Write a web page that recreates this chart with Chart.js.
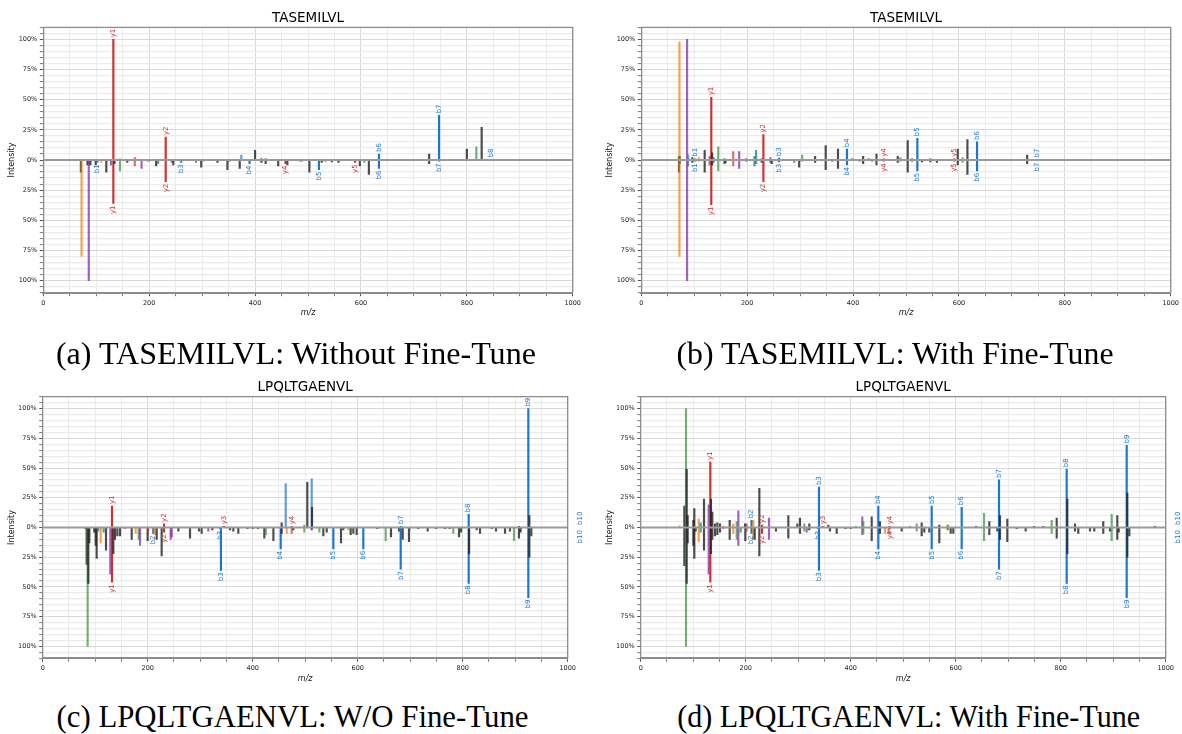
<!DOCTYPE html>
<html><head><meta charset="utf-8">
<script src="https://cdn.jsdelivr.net/npm/chart.js@4.4.1/dist/chart.umd.min.js"></script>
<style>
html,body{margin:0;padding:0;background:#fff;overflow:hidden;width:1182px;height:734px;position:relative;}
.panel{position:absolute;}
.cap{position:absolute;font-family:"Liberation Serif","Times New Roman",serif;font-size:31px;line-height:31px;white-space:nowrap;color:#000;transform-origin:center top;}
</style></head><body>
<div class="panel" style="left:0px;top:0px;width:584px;height:322px"><canvas id="ca"></canvas></div>
<div class="panel" style="left:598px;top:0px;width:584px;height:322px"><canvas id="cb"></canvas></div>
<div class="panel" style="left:0px;top:369px;width:584px;height:319px"><canvas id="cc"></canvas></div>
<div class="panel" style="left:598px;top:369px;width:584px;height:319px"><canvas id="cd"></canvas></div>
<div class="cap" id="capa"></div>
<div class="cap" id="capb"></div>
<div class="cap" id="capc"></div>
<div class="cap" id="capd"></div>
<script>
// ---------------- DATA ----------------
const TITLES = ['TASEMILVL', 'TASEMILVL', 'LPQLTGAENVL', 'LPQLTGAENVL'];
const CAPTIONS = ['(a) TASEMILVL: Without Fine-Tune', '(b) TASEMILVL: With Fine-Tune',
                  '(c) LPQLTGAENVL: W/O Fine-Tune', '(d) LPQLTGAENVL: With Fine-Tune'];
const X_LABEL = 'm/z';
const Y_LABEL = 'Intensity';
const X_MAJOR = 200, X_MINOR = 50, Y_MAJOR = 25, Y_MINOR = 5;

// peaks: [m/z, relative intensity %, ion type, annotation]
const A_TOP = [[132.3,100,'y','y1'],[145,1,'a',''],[173,2,'y',''],[231.2,19,'y','y2'],[374,4,'b',''],[400,8,'u',''],
 [411.7,1.5,'a',''],[420,1,'u',''],[634,5,'b','b6'],[652,0.5,'u',''],[728.8,5,'u',''],[747.5,37,'b','b7'],
 [800,9,'u',''],[818,11,'a',''],[828,27,'u',''],[846,0.5,'b','b8']];
const A_BOTTOM = [[71,10,'u',''],[72.2,80,'z',''],[83.4,4,'u',''],[85.9,100,'x',''],[89,4,'u',''],[99,4,'u',''],
 [102,2,'b','b1'],[109.7,2,'z',''],[119,10,'u',''],[128,4,'x',''],[132.3,36,'y','y1'],[134.5,3,'u',''],
 [144.8,9,'a',''],[158.6,2,'u',''],[172.9,5,'y',''],[185.6,7,'x',''],[198.6,1,'u',''],[213.1,5,'u',''],
 [216.9,3,'c',''],[231.2,18,'y','y2'],[242.6,2,'x',''],[245.6,4,'u',''],[260.5,2,'b','b3'],[288.3,2,'c',''],
 [298.3,6,'u',''],[302,1,'a',''],[329,2,'u',''],[347.8,8,'u',''],[352,1,'u',''],[371,7,'u',''],
 [389.6,3,'b','b4'],[412,2,'u',''],[420,3,'u',''],[443.7,5,'u',''],[457.5,3,'y','y4'],[461,4,'u',''],
 [485.6,1,'u',''],[489,1,'a',''],[502.6,10,'u',''],[520.7,8,'b','b5'],[526,2,'u',''],[532.6,1,'u',''],
 [545,1.5,'u',''],[557.6,2,'u',''],[589,2,'y','y5'],[597.8,5,'u',''],[606.6,2,'a',''],[615,12,'u',''],
 [634,7,'b','b6'],[711.8,0.5,'u',''],[728.8,3,'u',''],[747.5,1,'b','b7']];

const B_TOP = [[71.2,3,'u',''],[72.1,98,'z',''],[73,3,'a',''],[86.5,100,'x',''],[88.4,4,'b',''],[96.5,2,'u',''],
 [102,1,'b','b1'],[109,2,'z',''],[119.7,8,'u',''],[129.1,3,'x',''],[132.2,52,'y','y1'],[133.8,6,'u',''],
 [136.6,2,'c',''],[145.4,11,'a',''],[157.3,1,'u',''],[173.6,7,'y',''],[184.9,7,'x',''],[198,1,'u',''],
 [213.7,3,'c',''],[216.8,8,'c',''],[227.5,1,'u',''],[230.6,21,'y','y2'],[243.8,2,'x',''],[260.1,1.5,'b','b3'],
 [303.8,4,'a',''],[328.3,3,'u',''],[348.3,12,'u',''],[371.5,9,'u',''],[388.5,9,'b','b4'],[398.4,1,'u',''],
 [419,3,'u',''],[429.7,1,'u',''],[444.2,5,'u',''],[457.9,1,'y','y4'],[484.4,3,'u',''],[489.4,2,'a',''],
 [503.2,16,'u',''],[511.3,1,'u',''],[521.4,18,'b','b5'],[545.9,1,'u',''],[591,1,'y','y5'],[597.7,9,'u',''],
 [606.6,2,'a',''],[616,17,'u',''],[634.2,15,'b','b6'],[668,0.5,'u',''],[711.8,0.5,'u',''],[728.8,4,'u',''],
 [747.5,0.5,'b','b7']];
const B_BOTTOM = [[71.2,10,'u',''],[72.1,80,'z',''],[73,3,'a',''],[86.5,100,'x',''],[88.4,5,'b',''],[96.5,2,'u',''],
 [102,1,'b','b1'],[109,1,'z',''],[119.7,10,'u',''],[129.1,4,'x',''],[132.2,37,'y','y1'],[133.8,4,'u',''],
 [136.6,2,'c',''],[145.4,9,'a',''],[157.3,3,'u',''],[159.2,2,'u',''],[173.6,5,'y',''],[184.9,7,'x',''],
 [198,1,'u',''],[213.7,5,'c',''],[216.8,3,'c',''],[227.5,2,'u',''],[230.6,18,'y','y2'],[243.8,2,'x',''],
 [246.3,3,'u',''],[260.1,1.5,'b','b3'],[288.8,2,'c',''],[298.2,6,'u',''],[303.8,1,'a',''],[328.3,2,'u',''],
 [348.3,8,'u',''],[360.8,1,'u',''],[371.5,7,'u',''],[388.5,4,'b','b4'],[412.2,1,'u',''],[419,3,'u',''],
 [436,1,'u',''],[444.2,4,'u',''],[457.9,1,'y','y4'],[484.4,2,'u',''],[489.4,1,'a',''],[503.2,10,'u',''],
 [511.3,1,'u',''],[521.4,9,'b','b5'],[530.1,1.5,'u',''],[545.9,1.5,'u',''],[558.3,2,'u',''],[591,1,'y','y5'],
 [597.7,4,'u',''],[606.6,2,'a',''],[616,12,'u',''],[634.2,9,'b','b6'],[728.8,3,'u',''],[747.5,0.5,'b','b7']];

const C_TOP = [[132,18,'y','y1'],[231.1,3,'y','y2'],[345.3,1,'y','y3'],[455.2,4,'u',''],[462.9,37,'b',''],
 [474.3,1,'y','y4'],[498.3,2,'a',''],[504,38,'u',''],[512.4,41,'b',''],[513,17,'u',''],[681.9,1,'b','b7'],
 [811.4,11,'b','b8'],[907.2,1,'u',''],[925,100,'b','b9'],[926.9,10,'u',''],[1023,0.5,'b','b10']];
const C_BOTTOM = [[81.8,1,'u',''],[83.7,31,'u',''],[85.6,100,'a',''],[86.9,47,'u',''],[88.8,13,'u',''],
 [98.3,4,'u',''],[100.9,15,'u',''],[102.8,26,'u',''],[106,3,'c',''],[110.4,13,'z',''],[116.1,4,'c',''],
 [120.6,19,'u',''],[128.8,39,'x',''],[132,46,'y','y1'],[134.6,22,'u',''],[137.7,10,'u',''],[142.2,7,'u',''],
 [147.3,7,'u',''],[156.8,1,'y',''],[169.5,10,'u',''],[177.1,5,'z',''],[182.8,10,'a',''],[185.4,15,'x',''],
 [199.9,11,'u',''],[200.6,3,'y',''],[210.7,5,'b','b2'],[213.3,6,'z',''],[217.1,10,'u',''],[226.6,24,'u',''],
 [231.1,4,'y','y2'],[243.8,10,'x',''],[245.7,8,'x',''],[258.4,3,'u',''],[280.6,9,'u',''],[297.7,3,'u',''],
 [302.8,5,'u',''],[315.5,3,'x',''],[323.1,2,'u',''],[337.7,1,'b','b3'],[339.5,36,'b','b3'],[356.8,2,'u',''],
 [363.1,3,'u',''],[372.6,5,'u',''],[390,1,'u',''],[400,1,'u',''],[410,1,'u',''],[422.2,9,'u',''],
 [424.8,6,'a',''],[439.4,11,'u',''],[453.3,18,'b','b4'],[455.2,5,'u',''],[464.8,5,'z',''],[474.3,5,'y',''],
 [477.5,2,'u',''],[498.3,4,'a',''],[512.4,2,'u',''],[526.9,4,'a',''],[534.5,7,'u',''],[541,4,'u',''],
 [553.6,18,'b','b5'],[568.2,13,'u',''],[572.6,2,'u',''],[582.1,2,'z',''],[586.6,6,'u',''],[591.7,5,'u',''],
 [598,6,'u',''],[610.7,18,'b','b6'],[637.3,1,'u',''],[653.3,11,'a',''],[663.4,8,'u',''],[678.7,3,'u',''],
 [681.9,35,'b','b7'],[685.7,10,'u',''],[697.7,12,'u',''],[698.5,2,'c',''],[715.4,1,'u',''],[733.3,3,'u',''],
 [749.1,1,'u',''],[766.3,1,'u',''],[775.2,1,'u',''],[782.1,5,'a',''],[793,8,'u',''],[796.8,4,'u',''],
 [811.4,47,'b','b8'],[812.2,22,'u',''],[826.7,2,'u',''],[833,5,'u',''],[855.2,1,'u',''],[863.4,3,'u',''],
 [880.6,5,'u',''],[890,3,'u',''],[897.7,11,'a',''],[907.2,9,'u',''],[910.4,4,'u',''],[925,59,'b','b9'],
 [926.9,25,'u',''],[930.7,7,'u',''],[1023,0.5,'b','b10']];

const D_TOP = [[73.7,1.5,'z',''],[83.1,18,'u',''],[86.3,100,'a',''],[87.6,49,'u',''],[89.5,10,'u',''],
 [100.3,6,'u',''],[102.1,16,'u',''],[110.5,7,'z',''],[114.3,4,'c',''],[120.6,24,'u',''],[129.5,19,'x',''],
 [132.6,55,'y','y1'],[133.9,24,'u',''],[136.4,13,'u',''],[141.5,3,'u',''],[146,4,'u',''],[151,3,'u',''],
 [157.4,1,'y',''],[169.5,6,'u',''],[176.4,3,'z',''],[182.9,5,'a',''],[186,14,'x',''],[198.7,3,'u',''],
 [201.9,3,'y',''],[211.1,6,'b','b2'],[214.5,6,'z',''],[226,33,'u',''],[231.2,2,'y','y2'],[244.4,8,'x',''],
 [281.2,10,'u',''],[298.3,3,'u',''],[303.4,8,'u',''],[311.6,3,'a',''],[321.1,3,'u',''],[339.6,34,'b','b3'],
 [346.7,1,'y','y3'],[357.4,2,'u',''],[410,1,'c',''],[422.1,9,'x',''],[424,5,'a',''],[440,9,'u',''],
 [452.6,18,'b','b4'],[455.8,5,'u',''],[474.3,1,'y','y4'],[513,1,'b',''],[525.7,3,'a',''],[535.2,4,'u',''],
 [554.3,18,'b','b5'],[568.8,2,'u',''],[584,2,'z',''],[585.3,2,'a',''],[611.4,17,'b','b6'],[638.7,1,'u',''],
 [653.9,12,'a',''],[664,5,'u',''],[682.5,40,'b','b7'],[684.4,10,'u',''],[698.3,7,'u',''],[749.1,1,'u',''],
 [766.9,1,'u',''],[782.9,6,'a',''],[792.4,8,'u',''],[811.4,49,'b','b8'],[812.6,24,'u',''],[827.2,3,'u',''],
 [881.1,5,'u',''],[897.1,11,'a',''],[907.8,10,'u',''],[925.7,69,'b','b9'],[926.9,29,'u',''],[979.6,1,'u',''],
 [1023,0.5,'b','b10']];
const D_BOTTOM = [[83.1,32,'u',''],[86.3,100,'a',''],[87.6,47,'u',''],[89.5,13,'u',''],[100.3,15,'u',''],
 [102.1,26,'u',''],[104.7,3,'u',''],[110.5,12,'z',''],[114.3,4,'c',''],[120.6,19,'u',''],[129.5,39,'x',''],
 [132.6,46,'y','y1'],[133.9,22,'u',''],[136.4,10,'u',''],[141.5,7,'u',''],[146,6,'u',''],[151,4,'u',''],
 [157.4,1,'y',''],[169.5,10,'u',''],[176.4,5,'z',''],[182.9,10,'a',''],[186,15,'x',''],[190.5,4,'c',''],
 [199.3,11,'u',''],[201.9,3,'y',''],[211.1,5,'b','b2'],[214.5,10,'z',''],[217.1,10,'u',''],[226,24,'u',''],
 [231.2,5,'y','y2'],[244.4,10,'x',''],[257.7,3,'u',''],[281.2,9,'u',''],[303.4,5,'u',''],[311.6,3,'a',''],
 [316.2,4,'x',''],[321.1,2,'u',''],[338,1,'b','b3'],[339.6,36,'b','b3'],[360.6,3,'u',''],[373.3,5,'u',''],
 [390,1,'u',''],[400,1,'u',''],[422.1,6,'x',''],[424,5,'a',''],[440,11,'u',''],[452.6,18,'b','b4'],
 [455.8,5,'u',''],[465.3,5,'z',''],[472.4,5,'y',''],[474.3,1,'y','y4'],[497.1,3,'u',''],[525.7,3,'a',''],
 [535.2,7,'u',''],[540.2,4,'u',''],[549.7,4,'u',''],[554.3,18,'b','b5'],[568.8,13,'u',''],[584,2,'z',''],
 [585.3,2,'a',''],[590.5,5,'u',''],[595.4,5,'u',''],[611.4,18,'b','b6'],[653.9,11,'a',''],[664,6,'u',''],
 [679.2,3,'u',''],[682.5,35,'b','b7'],[684.4,10,'u',''],[698.3,12,'u',''],[716.2,1,'u',''],[733.3,3,'u',''],
 [782.9,5,'a',''],[792.4,9,'u',''],[811.4,47,'b','b8'],[812.6,22,'u',''],[827.2,3,'u',''],[833.5,5,'u',''],
 [855.8,3,'u',''],[864,3,'u',''],[881.1,5,'u',''],[893.9,3,'u',''],[897.1,11,'a',''],[907.8,10,'u',''],
 [910.5,4,'u',''],[925.7,59,'b','b9'],[926.9,25,'u',''],[930.7,7,'u',''],[1023,0.5,'b','b10']];

// ---------------- STYLE ----------------
const ION_COLORS = {a:'#388E3C', b:'#1976D2', c:'#00796B', x:'#7B1FA2', y:'#D32F2F', z:'#F57C00', u:'#212121'};
function rgba(hex, a){const n=parseInt(hex.slice(1),16);return `rgba(${n>>16&255},${n>>8&255},${n&255},${a})`;}
const FONT = 'DejaVu Sans';

const spectrumPlugin = {
  id:'spectrum',
  afterDatasetsDraw(chart){
    const ctx = chart.ctx, ca = chart.chartArea, ys = chart.scales.y;
    const y0 = ys.getPixelForValue(0);
    ctx.save();
    ctx.strokeStyle = '#9a9a9a'; ctx.lineWidth = 2;
    ctx.beginPath(); ctx.moveTo(ca.left, y0); ctx.lineTo(ca.right, y0); ctx.stroke();
    ctx.strokeStyle = '#8c8c8c'; ctx.lineWidth = 1.3;
    ctx.beginPath(); ctx.moveTo(ca.left, ca.top); ctx.lineTo(ca.right, ca.top); ctx.lineTo(ca.right, ca.bottom); ctx.stroke();
    const meta = chart.getDatasetMeta(0);
    const src = chart.data.datasets[0].peaks;
    ctx.font = `7px "${FONT}"`;
    ctx.textBaseline = 'middle';
    meta.data.forEach((el, i) => {
      const p = src[i];
      if (!p.label) return;
      ctx.save();
      ctx.fillStyle = ION_COLORS[p.ion];
      if (p.sign > 0) { ctx.translate(el.x, el.y - 2); ctx.rotate(-Math.PI/2); ctx.textAlign = 'left'; }
      else { ctx.translate(el.x, el.y + 2); ctx.rotate(-Math.PI/2); ctx.textAlign = 'right'; }
      ctx.fillText(p.label, 0, 0);
      ctx.restore();
    });
    ctx.restore();
  }
};

function buildPanel(canvasId, title, topPeaks, bottomPeaks, geo){
  const peaks = [];
  topPeaks.forEach(p => peaks.push({mz:p[0], v:p[1], ion:p[2], label:p[3], sign:1}));
  bottomPeaks.forEach(p => peaks.push({mz:p[0], v:-p[1], ion:p[2], label:p[3], sign:-1}));
  const data = peaks.map(p => ({x:p.mz, y:p.v}));
  const colors = peaks.map(p => rgba(ION_COLORS[p.ion], p.label ? 1 : (p.ion === 'u' ? 0.8 : 0.7)));
  return new Chart(document.getElementById(canvasId), {
    type:'bar',
    data:{datasets:[{data, peaks, backgroundColor:colors, borderWidth:0, barThickness:1.5, grouped:false}]},
    options:{
      responsive:true, maintainAspectRatio:false, animation:false,
      events:[],
      layout:{padding:{left:0, right:geo.padR, top:0, bottom:0}},
      plugins:{
        legend:{display:false}, tooltip:{enabled:false},
        title:{display:true, text:title, fullSize:false, color:'#000',
               font:{family:FONT, size:13.5, weight:'normal', lineHeight:1.2},
               padding:{top:geo.tTop, bottom:geo.tBot}}
      },
      scales:{
        x:{type:'linear', min:0, max:1000, offset:false,
           afterFit:(s)=>{ s.height = geo.xH; },
           ticks:{stepSize:X_MINOR, autoSkip:false, maxRotation:0, minRotation:0, padding:3, color:'#222',
                  font:{family:FONT, size:6.5}, callback:(v)=> (v % X_MAJOR === 0 ? String(v) : '')},
           grid:{offset:false, lineWidth:1, tickLength:3.5, drawTicks:true,
                 color:(c)=> (c.tick && c.tick.value % X_MAJOR === 0 ? '#d8d8d8' : '#ebebeb'),
                 tickColor:'#555', tickWidth:(c)=> (c.tick && c.tick.value % X_MAJOR === 0 ? 1 : 0.8)},
           border:{color:'#8c8c8c', width:2},
           title:{display:true, text:X_LABEL, color:'#111', font:{family:FONT, size:8, style:'italic', lineHeight:1.2},
                  padding:{top:0, bottom:geo.xtPad}}},
        y:{min:-110, max:110,
           afterFit:(s)=>{ s.width = geo.yW; },
           ticks:{stepSize:Y_MINOR, autoSkip:false, padding:2.5, color:'#222',
                  font:{family:FONT, size:6.5}, callback:(v)=> (v % Y_MAJOR === 0 ? Math.abs(v) + '%' : '')},
           grid:{lineWidth:(c)=> (c.tick && c.tick.value % Y_MAJOR === 0 ? 1 : 1.2), tickLength:3.5, drawTicks:true,
                 color:(c)=> (c.tick && c.tick.value === 0 ? '#9a9a9a' : (c.tick && c.tick.value % Y_MAJOR === 0 ? '#d8d8d8' : '#ebebeb')),
                 tickColor:'#555', tickWidth:(c)=> (c.tick && c.tick.value % Y_MAJOR === 0 ? 1 : 0.8)},
           border:{color:'#8c8c8c', width:1.3},
           title:{display:true, text:Y_LABEL, color:'#111', font:{family:FONT, size:8, lineHeight:1.2},
                  padding:{top:6.9, bottom:0}}}
      }
    },
    plugins:[spectrumPlugin]
  });
}

const GEO_TOP = {padR:9, yW:43.3, xH:29.3, tTop:9.9, tBot:1.2, xtPad:4.2};
const GEO_BOT = {padR:16.3, yW:42.7, xH:29.7, tTop:10.6, tBot:0.9, xtPad:4.6};
buildPanel('ca', TITLES[0], A_TOP, A_BOTTOM, GEO_TOP);
buildPanel('cb', TITLES[1], B_TOP, B_BOTTOM, GEO_TOP);
buildPanel('cc', TITLES[2], C_TOP, C_BOTTOM, GEO_BOT);
buildPanel('cd', TITLES[3], D_TOP, D_BOTTOM, GEO_BOT);

// captions: centre x, baseline y, target width (px)
const CAP_POS = [{id:'capa', cx:296, base:364.3, w:480}, {id:'capb', cx:894.5, base:364.3, w:437},
                 {id:'capc', cx:293, base:727, w:472}, {id:'capd', cx:908.5, base:727, w:463}];
function placeCaptions(){
  CAP_POS.forEach((c,i)=>{
    const el = document.getElementById(c.id);
    el.textContent = CAPTIONS[i];
    el.style.transform = 'none';
    const w = el.getBoundingClientRect().width;
    el.style.left = (c.cx - w/2) + 'px';
    el.style.top = (c.base - 26) + 'px';
    el.style.transformOrigin = 'center top';
    el.style.transform = `scaleX(${c.w / w})`;
  });
}
placeCaptions();
if (document.fonts && document.fonts.ready) document.fonts.ready.then(placeCaptions);
</script>
</body></html>
